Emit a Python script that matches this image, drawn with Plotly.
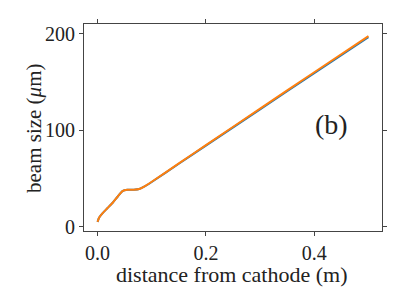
import plotly.graph_objects as go

x_orange = [0, 0.003, 0.009, 0.018, 0.028, 0.037, 0.046, 0.055, 0.067, 0.077, 0.086, 0.1, 0.15, 0.2, 0.3, 0.4, 0.5]
y_orange = [5, 9.5, 13.8, 19, 24.8, 31, 36.9, 38.3, 38.3, 39, 41.5, 46.5, 65.5, 84.5, 122.3, 160, 197.5]
x_blue = [0, 0.003, 0.009, 0.018, 0.028, 0.037, 0.046, 0.055, 0.067, 0.077, 0.086, 0.1, 0.15, 0.2, 0.3, 0.4, 0.5]
y_blue = [5, 9.5, 13.8, 19, 24.8, 31, 36.9, 38.3, 38.3, 39, 41.4, 46.3, 65.2, 84.0, 121.6, 159.0, 196.3]

x_ticks = [0.0, 0.2, 0.4]
x_tick_labels = ["0.0", "0.2", "0.4"]
y_ticks = [0, 100, 200]
y_tick_labels = ["0", "100", "200"]

font = "Liberation Serif"
axcol = "#444444"
txtcol = "#222222"

fig = go.Figure()
fig.add_trace(go.Scatter(x=x_blue, y=y_blue, mode="lines",
                         line=dict(color="#1f77b4", width=2, shape="spline", smoothing=0.6),
                         showlegend=False))
fig.add_trace(go.Scatter(x=x_orange, y=y_orange, mode="lines",
                         line=dict(color="#ff7f0e", width=2, shape="spline", smoothing=0.6),
                         showlegend=False))

L, R, T, B = 84, 25, 24, 74
W, H = 407, 305
pw = W - L - R
ph = H - T - B

def px_to_paper(px, py):
    return (px - L) / pw, (H - B - py) / ph

bx, by = px_to_paper(331, 124)
xtx, xty = px_to_paper(232, 274)
ytx, yty = px_to_paper(34, 128)

fig.update_layout(
    template="none",
    width=W, height=H,
    margin=dict(l=L, r=R, t=T, b=B, autoexpand=False),
    paper_bgcolor="white", plot_bgcolor="white",
    font=dict(family=font, size=20, color=txtcol),
    xaxis=dict(range=[-0.025, 0.525], tickvals=x_ticks, ticktext=x_tick_labels,
               automargin=False,
               showgrid=False, zeroline=False, showline=True, linecolor=axcol, linewidth=1,
               mirror="ticks", ticks="outside", ticklen=4, tickcolor=axcol),
    yaxis=dict(range=[-4.5, 210], tickvals=y_ticks, ticktext=y_tick_labels,
               automargin=False,
               showgrid=False, zeroline=False, showline=True, linecolor=axcol, linewidth=1,
               mirror="ticks", ticks="outside", ticklen=4, tickcolor=axcol),
    annotations=[
        dict(x=bx, y=by, xref="paper", yref="paper", xanchor="center", yanchor="middle",
             text="(b)", showarrow=False, font=dict(size=28, family=font, color=txtcol)),
        dict(x=xtx, y=xty, xref="paper", yref="paper", xanchor="center", yanchor="middle",
             text="distance from cathode (m)", showarrow=False,
             font=dict(size=22, family=font, color=txtcol)),
        dict(x=ytx, y=yty, xref="paper", yref="paper", xanchor="center", yanchor="middle",
             text="beam size (<i>μ</i>m)", showarrow=False, textangle=-90,
             font=dict(size=21, family=font, color=txtcol)),
    ],
)

fig.write_html("out.html", config={"displayModeBar": False},
               post_script="document.body.style.margin='0';document.body.style.overflow='hidden';")
